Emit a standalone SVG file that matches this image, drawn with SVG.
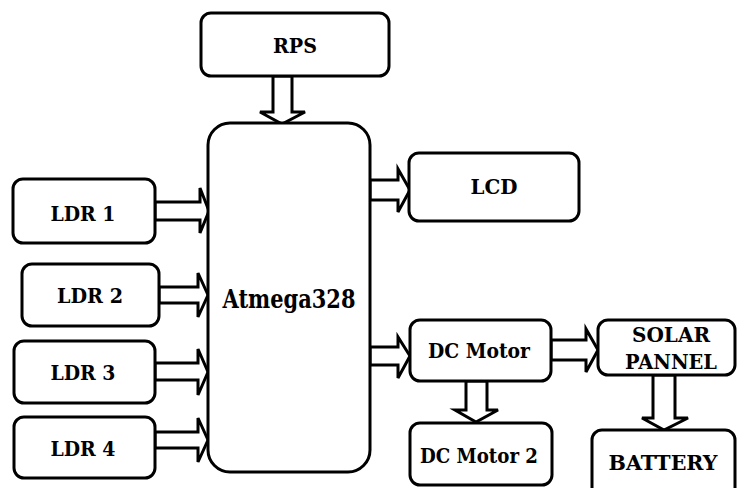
<svg xmlns="http://www.w3.org/2000/svg" width="737" height="488" viewBox="0 0 737 488">
<style>
.box{fill:#fff;stroke:#000;stroke-width:3}
.arr{fill:#fff;stroke:#000;stroke-width:3;stroke-linejoin:miter}
.t{font-family:'DejaVu Serif',serif;font-weight:700;font-size:21px;text-anchor:middle;fill:#000}
.big{font-size:26px}
</style>
<rect width="737" height="488" fill="#fff"/>
<g id="connectors">
<polygon class="arr" points="273,76 273,112 260,112 282,124 305,112 292,112 292,76"/>
<polygon class="arr" points="155,202 200,202 200,188 209,211 200,233 200,220 155,220"/>
<polygon class="arr" points="159,287 198,287 198,273 208,295 198,317 198,303 159,303"/>
<polygon class="arr" points="155,363 198,363 198,349 208,372 198,395 198,380 155,380"/>
<polygon class="arr" points="155,432 198,432 198,418 208,440 198,462 198,448 155,448"/>
<polygon class="arr" points="370,180 398,180 398,169 410,190 398,212 398,200 370,200"/>
<polygon class="arr" points="370,347 398,347 398,337 410,356 398,378 398,365 370,365"/>
<polygon class="arr" points="551,340 586,340 586,329 598,350 586,372 586,360 551,360"/>
<polygon class="arr" points="466,381 466,410 455,410 476,422 498,410 487,410 487,381"/>
<polygon class="arr" points="653,375 653,418 642,418 664,430 688,418 675,418 675,375"/>
</g>
<g id="rps"><rect class="box" x="201" y="13" width="188" height="63" rx="10"/><text class="t" x="295" y="53" textLength="44" lengthAdjust="spacingAndGlyphs">RPS</text></g>
<g id="atmega"><rect class="box" x="208" y="123" width="162" height="349" rx="22"/><text class="t big" x="289" y="308" textLength="133" lengthAdjust="spacingAndGlyphs">Atmega328</text></g>
<g id="ldr1"><rect class="box" x="13" y="179" width="142" height="64" rx="10"/><text class="t" x="83" y="221" textLength="65" lengthAdjust="spacingAndGlyphs">LDR 1</text></g>
<g id="ldr2"><rect class="box" x="22" y="264" width="137" height="62" rx="10"/><text class="t" x="90" y="303" textLength="66" lengthAdjust="spacingAndGlyphs">LDR 2</text></g>
<g id="ldr3"><rect class="box" x="14" y="341" width="141" height="62" rx="10"/><text class="t" x="83" y="380" textLength="65" lengthAdjust="spacingAndGlyphs">LDR 3</text></g>
<g id="ldr4"><rect class="box" x="14" y="417" width="141" height="61" rx="10"/><text class="t" x="83" y="456" textLength="65" lengthAdjust="spacingAndGlyphs">LDR 4</text></g>
<g id="lcd"><rect class="box" x="409" y="153" width="170" height="68" rx="10"/><text class="t" x="494" y="194" textLength="47" lengthAdjust="spacingAndGlyphs">LCD</text></g>
<g id="dcmotor"><rect class="box" x="410" y="320" width="141" height="61" rx="10"/><text class="t" x="479" y="358" textLength="102" lengthAdjust="spacingAndGlyphs">DC Motor</text></g>
<g id="dcmotor2"><rect class="box" x="410" y="423" width="142" height="62" rx="10"/><text class="t" x="479" y="463" textLength="118" lengthAdjust="spacingAndGlyphs">DC Motor 2</text></g>
<g id="solar"><rect class="box" x="598" y="320" width="137" height="55" rx="10"/><text class="t" x="671" y="342" textLength="78" lengthAdjust="spacingAndGlyphs">SOLAR</text><text class="t" x="671" y="369" textLength="92" lengthAdjust="spacingAndGlyphs">PANNEL</text></g>
<g id="battery"><rect class="box" x="592" y="430" width="143" height="70" rx="10"/><text class="t" x="663" y="470" textLength="109" lengthAdjust="spacingAndGlyphs">BATTERY</text></g>
</svg>
